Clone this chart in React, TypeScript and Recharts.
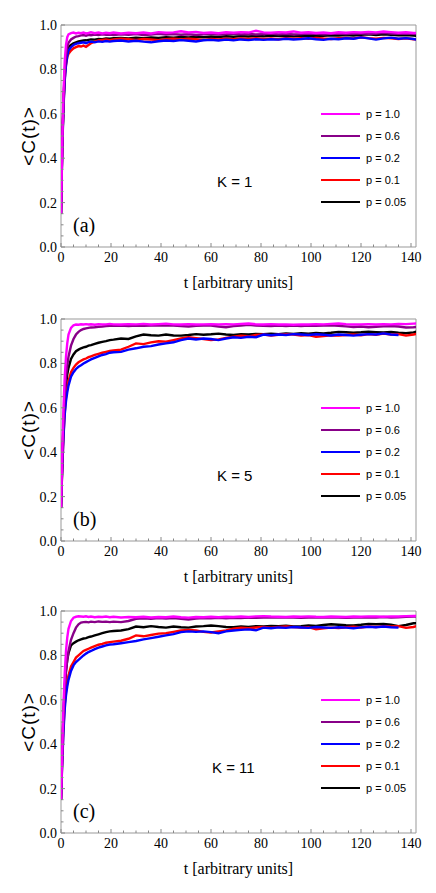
import React from 'react';
import { LineChart, Line, XAxis, YAxis, ReferenceArea, Legend } from 'recharts';

const T = [
  0, 0.5, 1, 1.5, 2, 2.5, 3,
  4, 5, 6, 7, 8, 9, 10, 11, 12,
  13.5, 15, 16.5, 18, 19.5,
  21, 24, 27, 30, 33, 36, 39,
  42, 45, 48, 51, 54, 57, 60,
  63, 66, 69, 72, 75, 78, 81,
  84, 87, 90, 93, 96, 99, 102,
  105, 108, 111, 114, 117, 120, 123,
  126, 129, 132, 135, 138, 141, 143,
];

// K = 1
const A_P100 = [
  0.15, 0.48, 0.7, 0.84, 0.91, 0.945, 0.958,
  0.963, 0.966, 0.962, 0.965, 0.963, 0.966, 0.962, 0.964, 0.967,
  0.963, 0.966, 0.962, 0.965, 0.963,
  0.966, 0.962, 0.965, 0.963, 0.966, 0.962, 0.968,
  0.965, 0.967, 0.972, 0.966, 0.969, 0.964, 0.966,
  0.963, 0.967, 0.965, 0.968, 0.966, 0.974, 0.967,
  0.965, 0.968, 0.966, 0.971, 0.965, 0.967, 0.964,
  0.966, 0.963, 0.967, 0.965, 0.968, 0.966, 0.969,
  0.967, 0.971, 0.968, 0.965, 0.967, 0.964, 0.965,
];
const A_P060 = [
  0.15, 0.46, 0.66, 0.79, 0.86, 0.9, 0.92,
  0.935, 0.942, 0.948, 0.95, 0.953, 0.955, 0.952, 0.956, 0.954,
  0.957, 0.955, 0.958, 0.956, 0.957,
  0.955, 0.958, 0.956, 0.959, 0.955, 0.957, 0.96,
  0.957, 0.959, 0.956, 0.958, 0.955, 0.958, 0.96,
  0.957, 0.959, 0.962, 0.958, 0.96, 0.957, 0.959,
  0.961, 0.958, 0.96, 0.957, 0.959, 0.962, 0.96,
  0.958, 0.96, 0.962, 0.959, 0.961, 0.963, 0.96,
  0.962, 0.965, 0.962, 0.96, 0.962, 0.96, 0.958,
];
const A_P020 = [
  0.15, 0.44, 0.63, 0.75, 0.82, 0.86, 0.885,
  0.9, 0.91, 0.915, 0.918, 0.92, 0.922, 0.918, 0.923, 0.925,
  0.922, 0.926, 0.924, 0.928, 0.925,
  0.928, 0.93, 0.926, 0.929, 0.925, 0.922, 0.927,
  0.93, 0.928, 0.932, 0.929, 0.926, 0.931, 0.933,
  0.93, 0.934, 0.931, 0.935, 0.932, 0.936, 0.933,
  0.936, 0.934, 0.938, 0.935, 0.937, 0.94, 0.936,
  0.933, 0.938, 0.936, 0.94, 0.938, 0.944, 0.94,
  0.934, 0.94, 0.943, 0.938, 0.941, 0.937, 0.933,
];
const A_P010 = [
  0.15, 0.45, 0.64, 0.76, 0.82, 0.855, 0.87,
  0.885, 0.895, 0.9, 0.905, 0.903, 0.907, 0.902, 0.91, 0.918,
  0.925, 0.93, 0.933, 0.935, 0.932,
  0.935, 0.938, 0.936, 0.933, 0.937, 0.935, 0.932,
  0.936, 0.938, 0.935, 0.938, 0.936, 0.933, 0.937,
  0.935, 0.938, 0.936, 0.939, 0.937, 0.94, 0.937,
  0.939, 0.936, 0.94, 0.938, 0.941, 0.938, 0.942,
  0.939, 0.937, 0.94, 0.942, 0.939, 0.945, 0.941,
  0.938, 0.942, 0.94, 0.937, 0.94, 0.936, 0.935,
];
const A_P005 = [
  0.15, 0.46, 0.65, 0.78, 0.85, 0.88, 0.9,
  0.91, 0.918, 0.922, 0.926, 0.928, 0.93, 0.931, 0.933, 0.935,
  0.934, 0.937, 0.936, 0.939, 0.938,
  0.94, 0.942, 0.939, 0.943, 0.941, 0.944, 0.942,
  0.945, 0.943, 0.946, 0.944, 0.947, 0.945, 0.948,
  0.946, 0.949, 0.947, 0.95, 0.948, 0.951, 0.949,
  0.952, 0.95, 0.951, 0.949, 0.952, 0.95, 0.953,
  0.951, 0.954, 0.952, 0.955, 0.953, 0.956, 0.958,
  0.955, 0.958, 0.956, 0.954, 0.955, 0.952, 0.95,
];

// K = 5
const B_P100 = [
  0.15, 0.4, 0.6, 0.74, 0.83, 0.89, 0.93,
  0.96, 0.972, 0.975, 0.974, 0.976, 0.975, 0.977, 0.975, 0.976,
  0.974, 0.977, 0.975, 0.976, 0.978,
  0.976, 0.975, 0.977, 0.976, 0.978, 0.975, 0.977,
  0.979, 0.976, 0.975, 0.977, 0.975, 0.976, 0.977,
  0.975, 0.977, 0.976, 0.978, 0.98, 0.976, 0.975,
  0.977, 0.975, 0.976, 0.974, 0.976, 0.975, 0.977,
  0.976, 0.978, 0.98, 0.977, 0.975, 0.976, 0.977,
  0.975, 0.977, 0.976, 0.978, 0.977, 0.979, 0.98,
];
const B_P060 = [
  0.15, 0.36, 0.54, 0.66, 0.74, 0.79, 0.83,
  0.88, 0.91, 0.93, 0.942, 0.95, 0.955, 0.958, 0.96, 0.962,
  0.963, 0.965, 0.966, 0.968, 0.969,
  0.969, 0.97, 0.968, 0.971, 0.969, 0.971, 0.97,
  0.972, 0.97, 0.968, 0.966, 0.969, 0.971, 0.97,
  0.966, 0.963, 0.968, 0.97, 0.974, 0.971, 0.969,
  0.968, 0.97, 0.968, 0.97, 0.968, 0.97, 0.969,
  0.971, 0.972, 0.969, 0.967, 0.964, 0.966, 0.963,
  0.965, 0.967, 0.968, 0.966, 0.962, 0.963, 0.965,
];
const B_P020 = [
  0.15, 0.33, 0.47, 0.57, 0.63, 0.67, 0.7,
  0.74, 0.76, 0.775, 0.785, 0.792, 0.8, 0.806, 0.812, 0.818,
  0.825, 0.832, 0.838, 0.842, 0.848,
  0.85, 0.852, 0.862, 0.868, 0.875, 0.878, 0.885,
  0.89, 0.895, 0.905, 0.912, 0.908, 0.912, 0.91,
  0.905, 0.912, 0.918, 0.915, 0.92, 0.918, 0.93,
  0.927, 0.93, 0.928, 0.932, 0.93, 0.928, 0.931,
  0.929, 0.926, 0.93, 0.928, 0.925, 0.929, 0.932,
  0.93, 0.935, 0.93, 0.928, null, null, null,
];
const B_P010 = [
  0.15, 0.33, 0.48, 0.58, 0.65, 0.69, 0.72,
  0.76, 0.78, 0.795, 0.805, 0.812, 0.818, 0.822, 0.828, 0.832,
  0.838, 0.843, 0.848, 0.852, 0.856,
  0.858, 0.862, 0.875, 0.89, 0.887, 0.895, 0.9,
  0.898, 0.905, 0.912, 0.918, 0.914, 0.91, 0.905,
  0.908, 0.915, 0.92, 0.925, 0.922, 0.928, 0.93,
  0.926, 0.929, 0.932, 0.93, 0.926, 0.928, 0.92,
  0.923, 0.927, 0.925, 0.928, 0.93, 0.927, 0.932,
  0.929, 0.934, 0.93, 0.932, 0.925, 0.93, 0.935,
];
const B_P005 = [
  0.15, 0.35, 0.52, 0.63, 0.7, 0.75, 0.78,
  0.82, 0.84, 0.855, 0.862, 0.868, 0.872, 0.875, 0.88, 0.882,
  0.888, 0.893, 0.897, 0.9, 0.905,
  0.907, 0.912, 0.91, 0.922, 0.93, 0.927, 0.925,
  0.93, 0.926, 0.925, 0.928, 0.932, 0.929, 0.931,
  0.934, 0.93, 0.928, 0.932, 0.93, 0.933, 0.931,
  0.934, 0.932, 0.935, 0.933, 0.936, 0.934, 0.937,
  0.935, 0.938, 0.942, 0.94, 0.938, 0.94, 0.943,
  0.941, 0.939, 0.942, 0.938, 0.936, 0.94, 0.946,
];

// K = 11
const C_P100 = [
  0.15, 0.38, 0.58, 0.72, 0.82, 0.88, 0.92,
  0.955, 0.97, 0.974, 0.976, 0.975, 0.974, 0.976, 0.973, 0.975,
  0.972, 0.974, 0.973, 0.975, 0.972,
  0.974, 0.971, 0.973, 0.972, 0.974, 0.971, 0.973,
  0.972, 0.975, 0.972, 0.97, 0.973, 0.972, 0.974,
  0.972, 0.974, 0.973, 0.975, 0.973, 0.976, 0.977,
  0.975, 0.974, 0.973, 0.975, 0.974, 0.976, 0.974,
  0.973, 0.975, 0.974, 0.973, 0.975, 0.974, 0.976,
  0.975, 0.974, 0.976, 0.975, 0.977, 0.978, 0.977,
];
const C_P060 = [
  0.15, 0.35, 0.53, 0.65, 0.73, 0.78, 0.82,
  0.87, 0.9, 0.925, 0.94, 0.948, 0.95, 0.951, 0.949, 0.952,
  0.95, 0.953, 0.951, 0.952, 0.95,
  0.952, 0.95, 0.955, 0.965, 0.967, 0.965, 0.968,
  0.966, 0.968, 0.965, 0.962, 0.966, 0.968, 0.967,
  0.969, 0.967, 0.969, 0.968, 0.97, 0.969, 0.971,
  0.97, 0.972, 0.97, 0.971, 0.969, 0.971, 0.97,
  0.972, 0.97, 0.971, 0.969, 0.971, 0.972, 0.97,
  0.971, 0.973, 0.971, 0.972, 0.974, 0.975, 0.976,
];
const C_P020 = [
  0.15, 0.32, 0.46, 0.56, 0.62, 0.66, 0.69,
  0.73, 0.755, 0.77, 0.78, 0.79, 0.8, 0.808, 0.815, 0.82,
  0.828, 0.835, 0.84, 0.845, 0.849,
  0.85, 0.855, 0.86, 0.865, 0.872, 0.878, 0.884,
  0.89, 0.896, 0.905, 0.908, 0.906, 0.908, 0.905,
  0.9, 0.908, 0.912, 0.915, 0.917, 0.913, 0.925,
  0.922, 0.926, 0.924, 0.928, 0.926, 0.924, 0.928,
  0.926, 0.924, 0.927, 0.925, 0.922, 0.926, 0.929,
  0.927, 0.93, 0.927, 0.925, null, null, null,
];
const C_P010 = [
  0.15, 0.33, 0.48, 0.58, 0.64, 0.68, 0.71,
  0.75, 0.77, 0.79, 0.8, 0.81, 0.82, 0.825, 0.83, 0.835,
  0.842, 0.848, 0.852, 0.857, 0.86,
  0.862, 0.866, 0.875, 0.89, 0.886, 0.892, 0.898,
  0.9, 0.906, 0.912, 0.915, 0.912, 0.906, 0.903,
  0.908, 0.912, 0.92, 0.925, 0.922, 0.926, 0.928,
  0.925, 0.928, 0.93, 0.928, 0.925, 0.927, 0.918,
  0.922, 0.925, 0.923, 0.927, 0.929, 0.926, 0.93,
  0.928, 0.932, 0.93, 0.932, 0.924, 0.928, 0.935,
];
const C_P005 = [
  0.15, 0.37, 0.55, 0.66, 0.73, 0.78, 0.81,
  0.845, 0.855, 0.862, 0.868, 0.872, 0.876, 0.878, 0.882, 0.885,
  0.89, 0.895, 0.9, 0.905, 0.908,
  0.91, 0.912, 0.918, 0.93, 0.927, 0.932, 0.928,
  0.925, 0.93, 0.927, 0.925, 0.93, 0.932, 0.935,
  0.932, 0.928, 0.927, 0.93, 0.928, 0.932, 0.93,
  0.933, 0.931, 0.934, 0.93, 0.932, 0.935, 0.933,
  0.937, 0.94, 0.938, 0.936, 0.935, 0.938, 0.942,
  0.94, 0.942, 0.938, 0.932, 0.937, 0.945, 0.945,
];

const X_TICKS = [0, 5, 10, 15, 20, 25, 30, 35, 40, 45, 50, 55, 60, 65, 70, 75, 80, 85, 90, 95, 100, 105, 110, 115, 120, 125, 130, 135, 140];
const X_LABELS = [0, 20, 40, 60, 80, 100, 120, 140];
const Y_TICKS = [0, 0.05, 0.1, 0.15, 0.2, 0.25, 0.3, 0.35, 0.4, 0.45, 0.5, 0.55, 0.6, 0.65, 0.7, 0.75, 0.8, 0.85, 0.9, 0.95, 1];
const Y_LABELS = [0, 0.2, 0.4, 0.6, 0.8, 1];

const SERIES = [
  { key: 'p100', name: 'p = 1.0', color: '#ff00ff' },
  { key: 'p060', name: 'p = 0.6', color: '#880088' },
  { key: 'p020', name: 'p = 0.2', color: '#0000ff' },
  { key: 'p010', name: 'p = 0.1', color: '#ff0000' },
  { key: 'p005', name: 'p = 0.05', color: '#000000' },
];

const SERIF = '"Liberation Serif", "Times New Roman", serif';
const SANS = '"Liberation Sans", Arial, sans-serif';

function rows(p100: any[], p060: any[], p020: any[], p010: any[], p005: any[]) {
  return T.map((t, i) => ({ t, p100: p100[i], p060: p060[i], p020: p020[i], p010: p010[i], p005: p005[i] }));
}

const PANELS = [
  { top: 0, k: 'K = 1', kx: 217, tag: '(a)', data: rows(A_P100, A_P060, A_P020, A_P010, A_P005) },
  { top: 294, k: 'K = 5', kx: 217, tag: '(b)', data: rows(B_P100, B_P060, B_P020, B_P010, B_P005) },
  { top: 586, k: 'K = 11', kx: 212, tag: '(c)', data: rows(C_P100, C_P060, C_P020, C_P010, C_P005) },
];

const XTick = (props: any) => {
  const { x, y, payload } = props;
  const major = X_LABELS.includes(payload.value);
  return (
    <g>
      <line x1={x} x2={x} y1={y} y2={y - (major ? 4 : 2.5)} stroke="#888" />
      {major && (
        <text x={x} y={y + 15} textAnchor="middle" fontFamily={SERIF} fontSize={14} fill="#000">
          {payload.value}
        </text>
      )}
    </g>
  );
};

const YTick = (props: any) => {
  const { x, y, payload } = props;
  const major = Y_LABELS.some((v) => Math.abs(v - payload.value) < 1e-6);
  return (
    <g>
      <line x1={x} x2={x + (major ? 4 : 2.5)} y1={y} y2={y} stroke="#888" />
      {major && (
        <text x={x - 4} y={y + 5} textAnchor="end" fontFamily={SERIF} fontSize={14} fill="#000">
          {payload.value.toFixed(1)}
        </text>
      )}
    </g>
  );
};

const LegendBox = () => (
  <svg width={100} height={110}>
    {SERIES.map((s, i) => (
      <g key={s.key}>
        <line x1={0} x2={39} y1={7 + 22 * i} y2={7 + 22 * i} stroke={s.color} strokeWidth={2} />
        <text x={45} y={11 + 22 * i} fontFamily={SANS} fontSize={11} fill="#000">
          {s.name}
        </text>
      </g>
    ))}
  </svg>
);

function Panel({ p }: { p: (typeof PANELS)[number] }) {
  return (
    <div style={{ position: 'absolute', left: 0, top: p.top, width: 436, height: 300 }}>
      <LineChart width={436} height={300} data={p.data} margin={{ top: 25, right: 20, bottom: 8, left: 0 }}>
        <XAxis
          dataKey="t"
          type="number"
          domain={[0, 142]}
          allowDataOverflow
          ticks={X_TICKS}
          interval={0}
          tickSize={0}
          tickMargin={0}
          axisLine={false}
          tickLine={false}
          tick={XTick}
          height={45}
          label={{ value: 't [arbitrary units]', position: 'insideBottom', offset: 4, fill: '#000', fontSize: 16, fontFamily: SERIF }}
        />
        <YAxis
          type="number"
          domain={[0, 1]}
          allowDataOverflow
          ticks={Y_TICKS}
          interval={0}
          tickSize={0}
          tickMargin={0}
          axisLine={false}
          tickLine={false}
          tick={YTick}
          width={61}
          label={{ value: '<C(t)>', angle: -90, position: 'center', dx: -2, fill: '#000', fontSize: 19, fontFamily: SANS, letterSpacing: 1 }}
        />
        <ReferenceArea x1={0} x2={142} y1={0} y2={1} fill="none" stroke="#999" strokeWidth={1} ifOverflow="visible" />
        {[...SERIES].reverse().map((s) => (
          <Line
            key={s.key}
            type="linear"
            dataKey={s.key}
            name={s.name}
            stroke={s.color}
            strokeWidth={2.4}
            dot={false}
            isAnimationActive={false}
          />
        ))}
        <Legend
          layout="vertical"
          align="center"
          verticalAlign="middle"
          wrapperStyle={{ left: 321, top: 107, width: 100 }}
          content={() => <LegendBox />}
        />
      </LineChart>
      <svg width={436} height={300} style={{ position: 'absolute', left: 0, top: 0, pointerEvents: 'none' }}>
        <text x={p.kx} y={187} fontFamily={SANS} fontSize={15} fill="#000">
          {p.k}
        </text>
        <text x={73} y={232} fontFamily={SERIF} fontSize={20} fill="#000">
          {p.tag}
        </text>
      </svg>
    </div>
  );
}

export default function App() {
  return (
    <div style={{ position: 'absolute', left: 0, top: 0, width: 436, height: 893, background: '#fff' }}>
      {PANELS.map((p) => (
        <Panel key={p.tag} p={p} />
      ))}
    </div>
  );
}
